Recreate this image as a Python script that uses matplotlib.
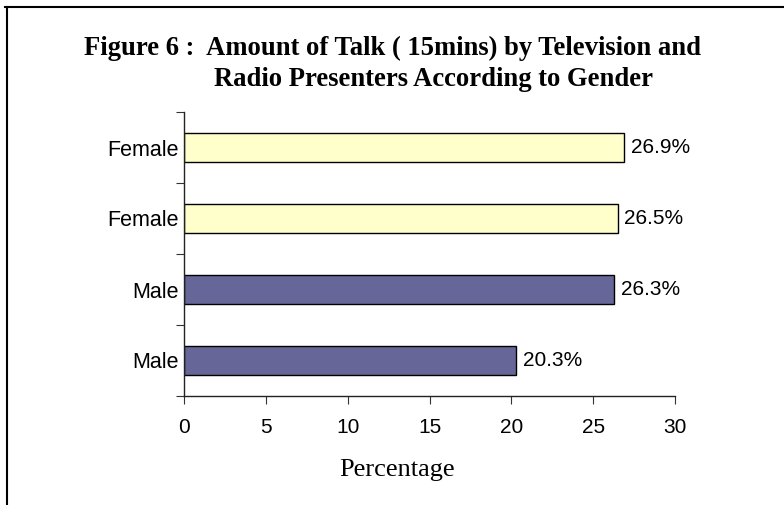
import matplotlib
matplotlib.use("Agg")
import matplotlib.pyplot as plt
from matplotlib.lines import Line2D

# Talk share per presenter group, bottom to top
labels = ["Male", "Male", "Female", "Female"]
values = [20.3, 26.3, 26.5, 26.9]
x_ticks = [0, 5, 10, 15, 20, 25, 30]

COLOURS = {"Male": "#666699", "Female": "#FFFFCC"}
SANS = "Liberation Sans"
SERIF = "Liberation Serif"

fig = plt.figure(figsize=(7.84, 5.05), dpi=100)
ax = fig.add_axes([184 / 784, 109 / 505, 491 / 784, 284 / 505])

pos = list(range(len(labels)))
ax.barh(pos, values, height=0.4,
        color=[COLOURS[g] for g in labels],
        edgecolor="black", linewidth=1)

for y, v in zip(pos, values):
    ax.text(v + 0.4, y, f"{v:.1f}%", va="center", ha="left",
            fontsize=15, family=SANS)

ax.set_xlim(0, 30)
ax.set_ylim(-0.5, len(labels) - 0.5)
ax.set_xticks(x_ticks)
ax.set_xticklabels([str(t) for t in x_ticks], fontsize=15, family=SANS)

# category names centred on the bars, tick marks on the category boundaries
ax.set_yticks([p - 0.5 for p in pos] + [len(labels) - 0.5])
ax.set_yticklabels([])
ax.set_yticks(pos, minor=True)
ax.set_yticklabels(labels, minor=True, fontsize=15.5, family=SANS)
ax.tick_params(axis="y", which="minor", length=0, pad=4)
ax.tick_params(axis="y", which="major", length=6, direction="out", color="#333333")
ax.tick_params(axis="x", length=6, direction="out", pad=10, color="#333333")

ax.spines[["top", "right"]].set_visible(False)
for s in ("left", "bottom"):
    ax.spines[s].set_color("#222222")
    ax.spines[s].set_linewidth(1)

fig.text(397 / 784, 1 - 470 / 505, "Percentage", ha="center", va="center",
         fontsize=19, family=SERIF)

fig.text(392 / 784, 1 - 48 / 505, "Figure 6 :  Amount of Talk ( 15mins) by Television and",
         ha="center", va="center", fontsize=19.2, fontweight="bold", family=SERIF)
fig.text(433 / 784, 1 - 79 / 505, "Radio Presenters According to Gender",
         ha="center", va="center", fontsize=19.2, fontweight="bold", family=SERIF)

# frame lines along the top and left edge
fig.add_artist(Line2D([5 / 784, 1], [1 - 7 / 505, 1 - 7 / 505],
                      transform=fig.transFigure, color="black", linewidth=1.5))
fig.add_artist(Line2D([7 / 784, 7 / 784], [0, 1 - 7 / 505],
                      transform=fig.transFigure, color="black", linewidth=1.5))

fig.savefig("out.png", dpi=100)
